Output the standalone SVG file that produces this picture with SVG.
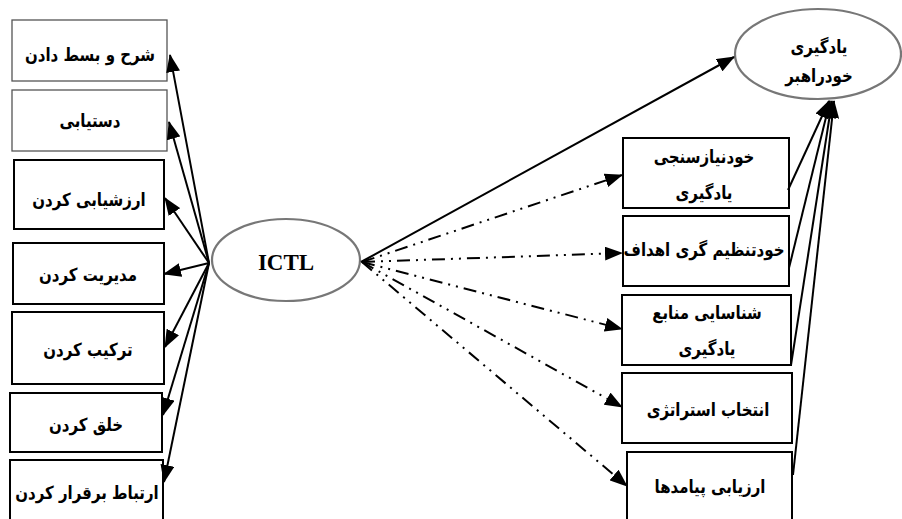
<svg xmlns="http://www.w3.org/2000/svg" width="902" height="519" viewBox="0 0 902 519">
<style>
.bg{fill:#fff}
.bx{fill:#fff;stroke:#000;stroke-width:2}
.bxg{fill:#fff;stroke:#555;stroke-width:1.3}
.el{fill:#fff;stroke:#777;stroke-width:2.2}
.fa{font-family:"DejaVu Sans",sans-serif;font-weight:bold;font-size:15px;fill:#000;text-anchor:middle;direction:rtl}
.en{font-family:"Liberation Serif",serif;font-weight:bold;font-size:23px;fill:#000;text-anchor:middle}
.ln{fill:none;stroke:#000;stroke-width:2}
.dd{fill:none;stroke:#000;stroke-width:2;stroke-dasharray:13 6 2 6 2 6}
</style>
<defs>
<marker id="ah" markerUnits="userSpaceOnUse" markerWidth="18" markerHeight="14" refX="17" refY="7" orient="auto">
<path d="M0,0 L18,7 L0,14 Z" fill="#000"/>
</marker>
</defs>
<rect class="bg" width="902" height="519"/>
<g id="n1"><rect class="bxg" x="12" y="20" width="155" height="61"/><text class="fa" transform="translate(90,61) scale(1,1.2)">شرح و بسط دادن</text></g>
<g id="n2"><rect class="bxg" x="12" y="90" width="155" height="61"/><text class="fa" transform="translate(90,127) scale(1,1.2)">دستیابی</text></g>
<g id="n3"><rect class="bx" x="14" y="160" width="150" height="69"/><text class="fa" transform="translate(89,206) scale(1,1.2)">ارزشیابی کردن</text></g>
<g id="n4"><rect class="bx" x="13" y="243" width="151" height="61"/><text class="fa" transform="translate(88,281) scale(1,1.2)">مدیریت کردن</text></g>
<g id="n5"><rect class="bx" x="12" y="312" width="152" height="72"/><text class="fa" transform="translate(88,356) scale(1,1.2)">ترکیب کردن</text></g>
<g id="n6"><rect class="bx" x="10" y="393" width="152" height="59"/><text class="fa" transform="translate(86,431) scale(1,1.2)">خلق کردن</text></g>
<g id="n7"><rect class="bx" x="10" y="460" width="153" height="70"/><text class="fa" transform="translate(87,499) scale(1,1.2)">ارتباط برقرار کردن</text></g>
<g id="ictl"><ellipse class="el" cx="286" cy="260" rx="74" ry="41"/><text class="en" x="286" y="270">ICTL</text></g>
<g id="sdl"><ellipse class="el" cx="818" cy="54" rx="83" ry="45"/><text class="fa" transform="translate(819,53) scale(1,1.2)">یادگیری</text><text class="fa" transform="translate(819,82) scale(1,1.2)">خودراهبر</text></g>
<g id="r1"><rect class="bx" x="623" y="138" width="166" height="70"/><text class="fa" transform="translate(704,163) scale(1,1.2)">خودنیازسنجی</text><text class="fa" transform="translate(704,199) scale(1,1.2)">یادگیری</text></g>
<g id="r2"><rect class="bx" x="623" y="216" width="166" height="70"/><text class="fa" transform="translate(704,256) scale(1,1.2)">خودتنظیم گری اهداف</text></g>
<g id="r3"><rect class="bx" x="622" y="295" width="169" height="70"/><text class="fa" transform="translate(707,319) scale(1,1.2)">شناسایی منابع</text><text class="fa" transform="translate(707,355) scale(1,1.2)">یادگیری</text></g>
<g id="r4"><rect class="bx" x="622" y="373" width="170" height="70"/><text class="fa" transform="translate(708,416) scale(1,1.2)">انتخاب استراتژی</text></g>
<g id="r5"><rect class="bx" x="627" y="452" width="165" height="80"/><text class="fa" transform="translate(710,493) scale(1,1.2)">ارزیابی پیامدها</text></g>
<g id="connectors">
<line class="ln" x1="209" y1="263" x2="170" y2="55" marker-end="url(#ah)"/>
<line class="ln" x1="209" y1="263" x2="169" y2="122" marker-end="url(#ah)"/>
<line class="ln" x1="209" y1="263" x2="165" y2="198" marker-end="url(#ah)"/>
<line class="ln" x1="209" y1="263" x2="164" y2="274" marker-end="url(#ah)"/>
<line class="ln" x1="209" y1="263" x2="165" y2="347" marker-end="url(#ah)"/>
<line class="ln" x1="209" y1="263" x2="163" y2="415" marker-end="url(#ah)"/>
<line class="ln" x1="209" y1="263" x2="164" y2="482" marker-end="url(#ah)"/>
<line class="ln" x1="361" y1="262" x2="734" y2="57" marker-end="url(#ah)"/>
<line class="dd" x1="362" y1="262" x2="622" y2="175" marker-end="url(#ah)"/>
<line class="dd" x1="362" y1="262" x2="622" y2="253" marker-end="url(#ah)"/>
<line class="dd" x1="362" y1="262" x2="622" y2="329" marker-end="url(#ah)"/>
<line class="dd" x1="362" y1="262" x2="622" y2="407" marker-end="url(#ah)"/>
<line class="dd" x1="362" y1="262" x2="627" y2="486" marker-end="url(#ah)"/>
<line class="ln" x1="788" y1="190" x2="829" y2="101" marker-end="url(#ah)"/>
<line class="ln" x1="789" y1="268" x2="830" y2="101" marker-end="url(#ah)"/>
<line class="ln" x1="791" y1="365" x2="832" y2="101" marker-end="url(#ah)"/>
<line class="ln" x1="793" y1="475" x2="834" y2="101" marker-end="url(#ah)"/>
</g>
</svg>
